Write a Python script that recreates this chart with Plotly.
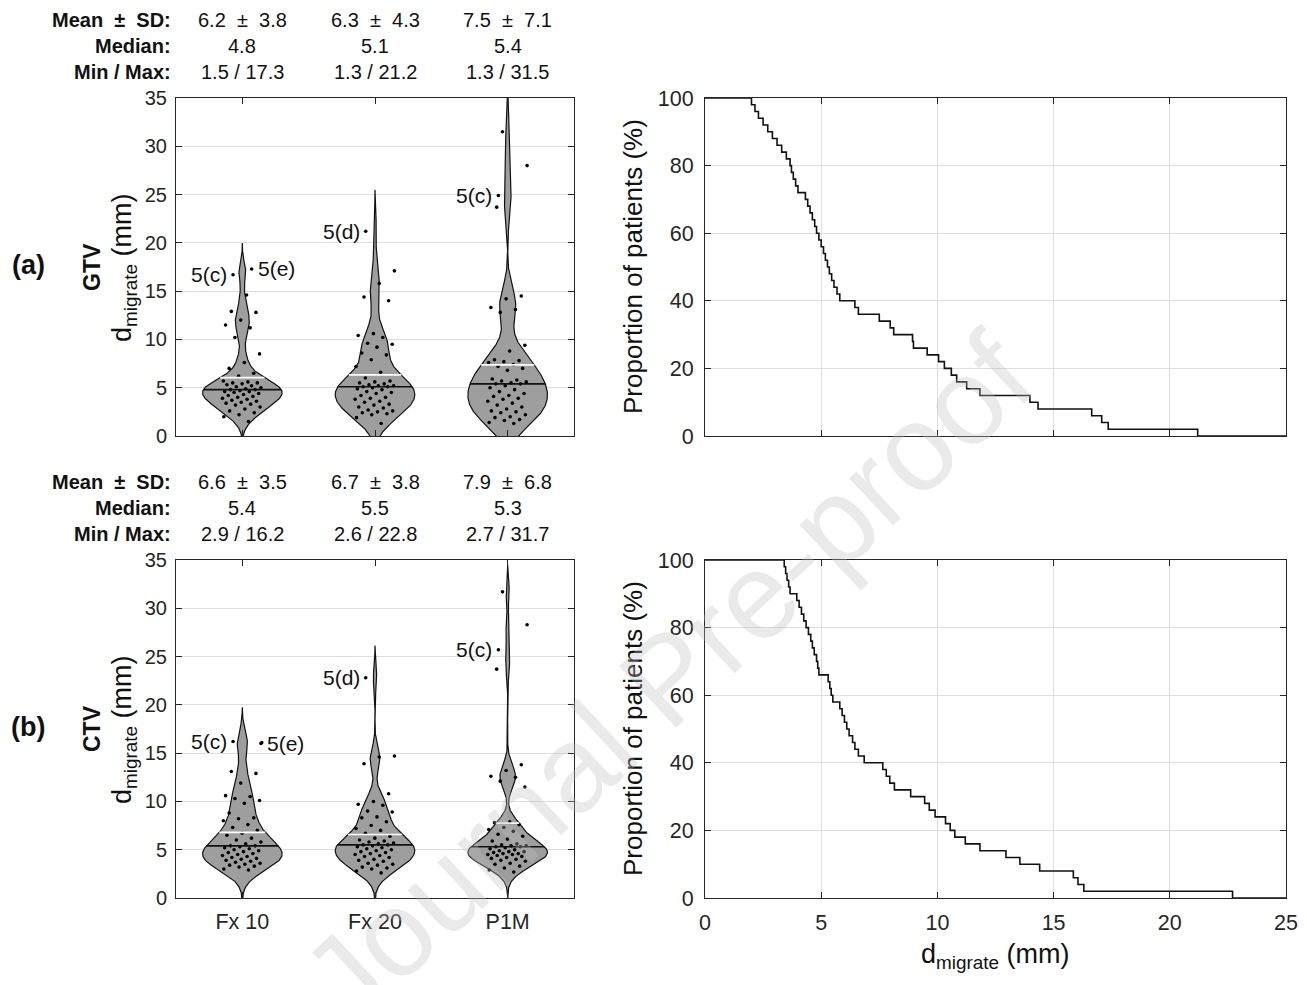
import numpy as np
import plotly.graph_objects as go

W, H = 1307, 985

# ---------------- data ----------------
categories = ["Fx 10", "Fx 20", "P1M"]

gtv_fx10 = [17.3, 16.7, 14.6, 12.9, 12.8, 12.0, 11.5, 11.2, 10.2, 8.5, 7.6, 7.0, 6.5, 6.2,
            5.7, 5.6, 5.5, 5.5, 5.4, 5.3, 5.2, 5.1, 5.0, 4.9, 4.8, 4.8,
            4.7, 4.6, 4.6, 4.5, 4.4, 4.3, 4.2, 4.1, 4.0, 3.9, 3.8, 3.7, 3.6, 3.5, 3.4, 3.3,
            3.2, 3.0, 2.8, 2.6, 2.4, 2.2, 2.0, 1.5]
gtv_fx20 = [21.2, 17.1, 15.8, 14.4, 14.0, 10.6, 10.4, 10.2, 9.6, 9.5, 9.2, 8.6, 8.4, 7.9,
            7.2, 6.6, 6.0, 5.7, 5.6, 5.5, 5.4, 5.3, 5.2, 5.2, 5.1, 5.1, 5.0, 4.9, 4.8, 4.6,
            4.5, 4.4, 4.2, 4.0, 3.9, 3.8, 3.6, 3.5, 3.3, 3.2, 3.0, 2.9, 2.7, 2.6, 2.5, 2.4,
            2.3, 2.2, 1.9, 1.3]
gtv_p1m = [31.5, 28.0, 24.9, 23.7, 14.5, 14.2, 13.3, 13.1, 12.8, 9.4, 8.8, 7.9, 7.8, 7.7,
           7.6, 7.4, 7.2, 7.0, 6.8, 5.9, 5.8, 5.7, 5.6, 5.5, 5.4, 5.4, 5.2, 5.0, 4.8, 4.6,
           4.4, 4.2, 4.1, 3.9, 3.8, 3.6, 3.4, 3.2, 3.0, 2.8, 2.6, 2.5, 2.4, 2.2, 2.0, 1.9,
           1.7, 1.6, 1.4, 1.3]

ctv_fx10 = [16.2, 16.1, 16.0, 13.1, 12.9, 11.9, 10.6, 10.5, 10.3, 10.1, 9.8, 8.8, 8.3, 8.2,
            8.0, 7.6, 7.3, 7.0, 6.7, 6.5, 6.2, 6.0, 5.8, 5.6, 5.4, 5.4, 5.3, 5.2, 5.1, 5.0,
            4.9, 4.8, 4.7, 4.6, 4.5, 4.4, 4.3, 4.2, 4.1, 4.0, 3.9, 3.8, 3.7, 3.6, 3.5, 3.4,
            3.3, 3.2, 3.0, 2.9]
ctv_fx20 = [22.8, 14.7, 14.6, 13.9, 10.8, 10.0, 9.7, 9.6, 9.0, 8.9, 8.4, 8.3, 7.9, 7.5,
            7.2, 7.0, 6.7, 6.4, 6.2, 6.0, 5.9, 5.8, 5.7, 5.6, 5.5, 5.5, 5.4, 5.3, 5.2, 5.1,
            5.0, 4.9, 4.8, 4.7, 4.6, 4.5, 4.4, 4.3, 4.2, 4.0, 3.9, 3.8, 3.6, 3.5, 3.4, 3.2,
            3.1, 3.0, 2.8, 2.6]
ctv_p1m = [31.7, 28.3, 25.7, 23.7, 13.8, 13.2, 12.6, 12.5, 12.1, 11.5, 7.9, 7.8, 7.6, 7.3,
           7.1, 6.9, 6.6, 6.4, 6.1, 5.9, 5.6, 5.5, 5.4, 5.4, 5.3, 5.3, 5.2, 5.1, 5.0, 4.9,
           4.8, 4.8, 4.7, 4.6, 4.6, 4.5, 4.5, 4.4, 4.3, 4.2, 4.1, 4.0, 3.9, 3.8, 3.6, 3.5,
           3.3, 3.1, 2.9, 2.7]

# values behind the proportion curves (right panels)
gtv_curve = [2.0, 2.15, 2.3, 2.5, 2.7, 2.9, 3.1, 3.3, 3.5, 3.66,
             3.72, 3.8, 3.9, 4.0,
             4.32, 4.42, 4.52, 4.62, 4.72, 4.8,
             4.9, 5.0, 5.1, 5.18, 5.27, 5.35,
             5.45, 5.55, 5.68, 5.8,
             6.45, 6.6, 7.5, 7.97, 8.12,
             8.93, 8.97, 9.56,
             10.05, 10.3, 10.6, 10.83, 11.26, 11.83,
             13.98, 14.33, 16.64, 17.07, 17.35, 21.2]
ctv_curve = [3.41, 3.47, 3.53, 3.6, 3.66,
             3.95, 4.05, 4.15, 4.25, 4.35, 4.45, 4.55, 4.62, 4.7, 4.8,
             4.85, 4.9, 5.3, 5.37, 5.43, 5.5,
             5.8, 5.9, 6.0, 6.1, 6.2, 6.35,
             6.45, 6.6, 6.85,
             7.65, 7.8, 7.95, 8.15, 8.85,
             9.45, 9.65, 9.9, 10.35, 10.55, 10.75,
             11.2, 11.83, 12.95, 13.55, 14.4,
             15.85, 16.05, 16.3, 22.7]

PM = "\u00a0 \u00b1 \u00a0"
stat_labels = ["Mean" + PM + "SD:", "Median:", "Min / Max:"]
gtv_mean_sd = ["6.2" + PM + "3.8", "6.3" + PM + "4.3", "7.5" + PM + "7.1"]
gtv_median = ["4.8", "5.1", "5.4"]
gtv_minmax = ["1.5 / 17.3", "1.3 / 21.2", "1.3 / 31.5"]
ctv_mean_sd = ["6.6" + PM + "3.5", "6.7" + PM + "3.8", "7.9" + PM + "6.8"]
ctv_median = ["5.4", "5.5", "5.3"]
ctv_minmax = ["2.9 / 16.2", "2.6 / 22.8", "2.7 / 31.7"]

# labelled cases: (text, category index, value, side)
gtv_cases = [("5(c)", 0, 16.7, -1), ("5(e)", 0, 17.3, 1), ("5(d)", 1, 21.2, -1), ("5(c)", 2, 24.9, -1)]
ctv_cases = [("5(c)", 0, 16.2, -1), ("5(e)", 0, 16.0, 2), ("5(d)", 1, 22.8, -1), ("5(c)", 2, 25.7, -1)]

# ---------------- helpers ----------------
FONT = "Liberation Sans, Arial, Helvetica, sans-serif"
DARK = "#262626"
GRID = "#dedede"
FILL = "#9e9e9e"
HALF_W = 0.3
JIT = 0.15


def px(xp):
    return xp / W


def py(yp):
    return 1 - yp / H


def kde(vals):
    v = np.asarray(vals, float)
    n = len(v)
    sig = np.median(np.abs(v - np.median(v))) / 0.6745
    bw = sig * (4.0 / (3.0 * n)) ** 0.2
    grid = np.linspace(v.min() - 3 * bw, v.max() + 3 * bw, 400)

    def dens(y):
        y = np.atleast_1d(y)
        return np.exp(-0.5 * ((y[:, None] - v[None, :]) / bw) ** 2).sum(1) / (n * bw * np.sqrt(2 * np.pi))

    return grid, dens(grid), dens


fig = go.Figure()
annotations = []


def add_violins(groups, cases, xa, ya):
    for k, vals in enumerate(groups):
        c = k + 1
        grid, d, dens = kde(vals)
        scale = HALF_W / d.max()
        hw = d * scale
        xs = np.concatenate([c + hw, (c - hw)[::-1]])
        ys = np.concatenate([grid, grid[::-1]])
        fig.add_trace(go.Scatter(x=xs, y=ys, mode="lines", fill="toself", fillcolor=FILL,
                                 line=dict(color="#111111", width=1.2), xaxis=xa, yaxis=ya,
                                 hoverinfo="skip", showlegend=False))
        # jittered points
        vals_arr = np.asarray(vals, float)
        idx = np.arange(len(vals_arr))
        jit = ((idx * 0.6180339887 + 0.37) % 1.0 - 0.5) * 2 * JIT
        for (txt, ci, val, side) in cases:
            if ci == k:
                j = int(np.argmin(np.abs(vals_arr - val)))
                jit[j] = 0.07 * side
                annotations.append(dict(
                    text=txt, x=c + jit[j], y=vals_arr[j], xref=xa, yref=ya,
                    xanchor="right" if side < 0 else "left",
                    xshift=-4 if side < 0 else 4, yanchor="middle", showarrow=False,
                    font=dict(family=FONT, size=21, color="#111111")))
        fig.add_trace(go.Scatter(x=c + jit, y=vals_arr, mode="markers",
                                 marker=dict(color="black", size=3.6), xaxis=xa, yaxis=ya,
                                 hoverinfo="skip", showlegend=False))
        # mean (white) and median (black) lines spanning the violin
        mean = vals_arr.mean()
        med = np.median(vals_arr)
        for val, col in [(mean, "white"), (med, "#111111")]:
            w = dens(val)[0] * scale
            fig.add_trace(go.Scatter(x=[c - w, c + w], y=[val, val], mode="lines",
                                     line=dict(color=col, width=1.6), xaxis=xa, yaxis=ya,
                                     hoverinfo="skip", showlegend=False))


def add_curve(vals, xa, ya):
    v = np.sort(np.asarray(vals, float))
    n = len(v)
    xs = np.concatenate([[0.0], v, [25.0]])
    ys = np.concatenate([[100.0], 100.0 * (n - np.arange(1, n + 1)) / n, [0.0]])
    fig.add_trace(go.Scatter(x=xs, y=ys, mode="lines", line=dict(color="#111111", width=1.6, shape="hv"),
                             xaxis=xa, yaxis=ya, hoverinfo="skip", showlegend=False))


add_violins([gtv_fx10, gtv_fx20, gtv_p1m], gtv_cases, "x", "y")
add_curve(gtv_curve, "x2", "y2")
add_violins([ctv_fx10, ctv_fx20, ctv_p1m], ctv_cases, "x3", "y3")
add_curve(ctv_curve, "x4", "y4")

# ---------------- axes ----------------
L = [px(176), px(574)]
R = [px(705), px(1286)]
TOP = [py(436), py(98)]
BOT = [py(898), py(560)]

common = dict(showline=True, linecolor=DARK, linewidth=1, mirror="ticks", ticks="inside",
              ticklen=6, tickcolor=DARK, zeroline=False, automargin=False)
big = dict(family=FONT, size=21.5, color=DARK)
small = dict(family=FONT, size=20, color=DARK)

vx = dict(common, range=[0.5, 3.5], tickvals=[1, 2, 3], ticktext=categories, showgrid=False,
          tickfont=big, ticklabelstandoff=4)
vy = dict(common, range=[0, 35], tickvals=list(range(0, 36, 5)), showgrid=True, gridcolor=GRID,
          gridwidth=1, tickfont=small, ticklabelstandoff=4)
cx = dict(common, range=[0, 25], tickvals=list(range(0, 26, 5)), showgrid=True, gridcolor=GRID,
          gridwidth=1, tickfont=big, ticklabelstandoff=5)
cy = dict(common, range=[0, 100], tickvals=list(range(0, 101, 20)), showgrid=True, gridcolor=GRID,
          gridwidth=1, tickfont=big, ticklabelstandoff=6)

fig.update_layout(
    width=W, height=H, autosize=False,
    margin=dict(l=0, r=0, t=0, b=0, autoexpand=False),
    paper_bgcolor="white", plot_bgcolor="white",
    showlegend=False,
    xaxis=dict(vx, domain=L, anchor="y", showticklabels=False),
    yaxis=dict(vy, domain=TOP, anchor="x"),
    xaxis2=dict(cx, domain=R, anchor="y2", showticklabels=False),
    yaxis2=dict(cy, domain=TOP, anchor="x2"),
    xaxis3=dict(vx, domain=L, anchor="y3"),
    yaxis3=dict(vy, domain=BOT, anchor="x3"),
    xaxis4=dict(cx, domain=R, anchor="y4"),
    yaxis4=dict(cy, domain=BOT, anchor="x4"),
)

# ---------------- text ----------------
def txt(text, x, y, size=19, bold=False, xanchor="center", angle=0, xref="paper", color="#111111"):
    annotations.append(dict(text=f"<b>{text}</b>" if bold else text, x=x, y=y, xref=xref, yref="paper",
                            xanchor=xanchor, yanchor="middle", showarrow=False, textangle=angle,
                            font=dict(family=FONT, size=size, color=color)))


for rows_y, stats, xref in [([20, 46, 72], [gtv_mean_sd, gtv_median, gtv_minmax], "x"),
                            ([482, 508, 534], [ctv_mean_sd, ctv_median, ctv_minmax], "x3")]:
    for ry, lab, row in zip(rows_y, stat_labels, stats):
        txt(lab, px(173), py(ry), size=20, bold=True, xanchor="right")
        for k, s in enumerate(row):
            txt(s, k + 1, py(ry), size=20, xref=xref)

for cy_px, panel, tag in [(267, "(a)", "GTV"), (729, "(b)", "CTV")]:
    txt(panel, px(28), py(cy_px - 2), size=27, bold=True)
    txt(tag, px(92), py(cy_px), size=23, bold=True, angle=-90)
    txt("d<sub>migrate</sub> (mm)", px(124), py(cy_px), size=27, angle=-90)
    txt("Proportion of patients (%)", px(633), py(cy_px), size=26, angle=-90)

txt("d<sub>migrate</sub> (mm)", px(995), py(956), size=27)

# watermark
annotations.append(dict(text="Journal Pre-proof", x=px(668), y=py(678), xref="paper", yref="paper",
                        xanchor="center", yanchor="middle", showarrow=False, textangle=-43,
                        font=dict(family=FONT, size=122, color="rgba(190,190,190,0.32)")))

fig.update_layout(annotations=annotations)
fig.write_html("out.html", config={"displayModeBar": False},
               post_script="document.body.style.margin='0px';document.body.style.overflow='hidden';")
